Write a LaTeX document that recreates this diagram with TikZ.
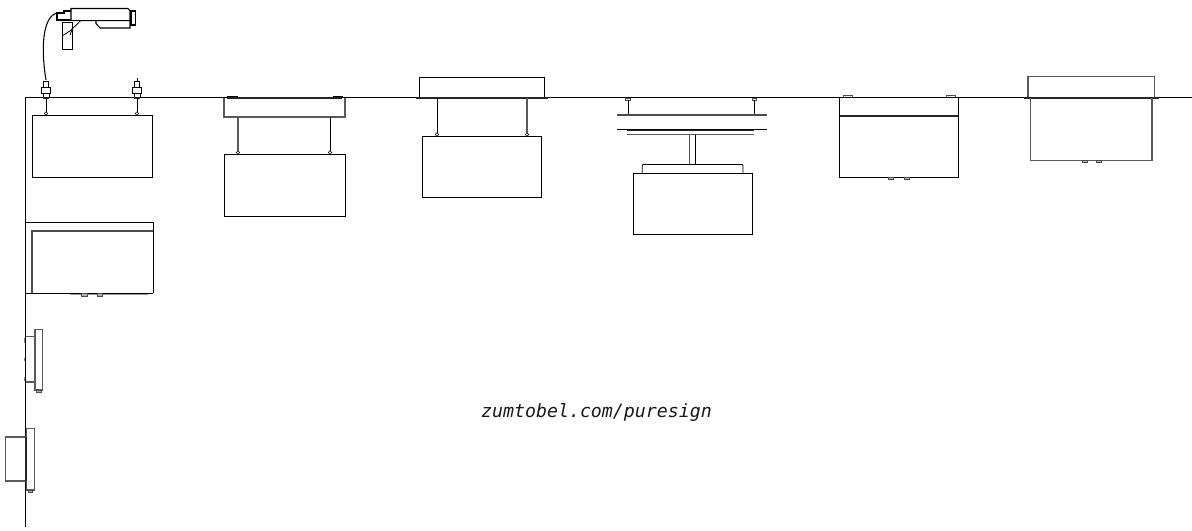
\documentclass[tikz,border=0pt]{standalone}
\usepackage{fontspec}
\setmonofont{DejaVu Sans Mono}
\tikzset{
  ln/.style={draw=black,line width=0.6pt},
  grey/.style={draw=black!65,line width=0.85pt},
  thick2/.style={draw=black!85,line width=1.1pt},
  nub/.style={draw=black!70,fill=black!30,line width=0.5pt},
  ball/.style={draw=black,fill=white,line width=0.45pt},
  label/.style={font=\ttfamily\itshape\fontsize{13.7pt}{16pt}\selectfont,text=black!90,inner sep=0pt}
}
\newcommand{\plug}[2]{%
  \draw[ln,line width=0.7pt] (#1-2.3,#2+81) rectangle (#1+2.3,#2+87.5);
  \draw[ln,line width=0.9pt] (#1-4.5,#2+87.5) rectangle (#1+4.5,#2+93.5);
  \draw[ln,line width=0.7pt] (#1-3,#2+93.5) rectangle (#1+3,#2+97);
  \draw[thick2] (#1-3,#2+98) -- (#1+3,#2+98);
  \draw[ln] (#1,#2+98) -- (#1,#2+113);
  \draw[ball] (#1,#2+113.5) circle (1.8);
}
\begin{document}
\begin{tikzpicture}[x=0.75pt,y=-0.75pt]
\useasboundingbox (0,0) rectangle (1192,531);
% ceiling and wall
\draw[ln] (25.3,97.5) -- (1192,97.5);
\draw[ln] (25.3,97.5) -- (25.3,527);
% camera-type luminaire
\draw[ln,line width=0.8pt] (71,8.5) -- (128,8.5) -- (130,11) -- (130,20.7) -- (71,20.7) -- cycle;
\draw[ln,line width=0.8pt] (130,11) -- (135.7,11) -- (135.7,25) -- (130,25);
\draw[ln,line width=1.1pt] (131,11) -- (131,25);
\draw[ln,line width=0.8pt] (96,20.7) -- (96,23.5) -- (100,28) -- (130,28) -- (130,20.7);
\draw[ln,line width=0.8pt] (71,11) -- (64,11) -- (64,13) -- (57,13) -- (57,20) -- (71,20);
\draw[ln] (62,22.5) -- (72.7,22.5) -- (72.7,49) -- (62,49) -- cycle;
\draw[ln] (62,36) -- (70,31) -- (80.7,20.7);
\draw[ln] (70,35) -- (72.7,28);
\draw[ln,line width=0.8pt] (57,13) .. controls (42,17) and (41,50) .. (46,80);
\plug{46}{0}
\plug{137}{0}
\draw[ln] (137,78) -- (137,81);
% sign 1
\draw[ln] (32,115) rectangle (152,177);
% sign 2
\draw[grey] (224,98) -- (224,117) -- (345,117) -- (345,98);
\draw[thick2] (227,98) -- (342,98);
\draw[ln] (227,98) -- (227,96.3) -- (237,96.3) -- (237,98);
\draw[ln] (333,98) -- (333,96.3) -- (342,96.3) -- (342,98);
\draw[grey] (238,117) -- (238,152);
\draw[ln] (330,117) -- (330,152);
\draw[ball] (238,152.5) circle (1.8);
\draw[ball] (330,152.5) circle (1.8);
\draw[ln,line width=0.7pt] (224,154) rectangle (345,216);
% sign 3
\draw[ln,line width=0.7pt] (419.5,77.3) rectangle (544,97);
\draw[thick2] (416,98) -- (548,98);
\draw[ln] (437,98) -- (437,134);
\draw[grey] (527,98) -- (527,134);
\draw[ball] (437,134.5) circle (1.8);
\draw[ball] (527,134.5) circle (1.8);
\draw[ln,line width=0.7pt] (422.5,136) rectangle (541,197);
% sign 4
\draw[ln,draw=black!70] (625.7,98) rectangle (630,100.5);
\draw[ln,draw=black!70] (752,98) rectangle (756.3,100.5);
\draw[ln] (628,100.5) -- (628,114);
\draw[ln] (754,100.5) -- (754,114);
\draw[thick2,draw=black!70] (617,115) -- (767,115);
\draw[ln] (617,129.7) -- (767,129.7);
\draw[thick2] (627,130.5) -- (754,130.5);
\draw[grey] (627,134.7) -- (754,134.7);
\draw[grey] (689.7,135) -- (689.7,164.5);
\draw[ln] (695.7,135) -- (695.7,164.5);
\draw[ln] (642.3,173) -- (642.3,165.5) -- (643,164.5) -- (742.3,164.5) -- (743,165.5) -- (743,173);
\draw[ln,line width=0.7pt] (633.3,173) rectangle (752,234);
% sign 5
\draw[ln,line width=0.7pt] (839.7,97.5) -- (839.7,177) -- (958.3,177) -- (958.3,97.5);
\draw[thick2] (840,116) -- (958,116);
\draw[ln,draw=black!70] (843.3,97) -- (843.3,95.3) -- (852,95.3) -- (852,97);
\draw[ln,draw=black!70] (946,97) -- (946,95.3) -- (955.3,95.3) -- (955.3,97);
\draw[nub] (888.5,177.3) rectangle (893.7,179.3);
\draw[nub] (904,177.3) rectangle (909.3,179.3);
% sign 6
\draw[grey] (1028,97) -- (1028,76.7) -- (1154.3,76.7) -- (1154.3,97);
\draw[thick2] (1024,98) -- (1159,98);
\draw[grey] (1030.7,98) -- (1030.7,160.3) -- (1152,160.3) -- (1152,98);
\draw[nub] (1082,160.5) rectangle (1087,162.3);
\draw[nub] (1096,160.5) rectangle (1101,162.3);
% wall sign
\draw[ln] (26,222.3) -- (153,222.3) -- (153,293.3);
\draw[thick2,draw=black!70] (31,231) -- (153,231);
\draw[thick2,draw=black!70] (31.8,231) -- (31.8,293);
\draw[ln,line width=0.7pt] (25.3,293.3) -- (153,293.3);
\draw[draw=black!40,line width=0.5pt] (70,294.2) -- (148,294.2);
\draw[nub] (81.5,293.6) rectangle (87,296);
\draw[nub] (97,293.6) rectangle (102,296);
% wall panel 1
\draw[grey] (35,336.7) -- (25.5,336.7);
\draw[grey] (35,382) -- (25.5,382);
\draw[grey] (35,329.3) rectangle (42.7,390);
\draw[nub] (36.5,390.3) rectangle (41,392);
\draw[ln,draw=black!50] (24.5,338.3) -- (24.5,343);
\draw[ln,draw=black!50] (24.5,358) -- (24.5,361);
\draw[ln,draw=black!50] (24.5,377) -- (24.5,381);
% wall panel 2
\draw[grey] (26.7,428.3) rectangle (34.3,490);
\draw[nub] (28,490.3) rectangle (32.8,492);
\draw[grey] (26,437) -- (5.7,437) -- (5.7,481) -- (26,481);
\draw[thick2] (26,437) -- (26,481);
% url
\node[label,anchor=base] (url) at (596.5,417) {zumtobel.com/puresign};
\end{tikzpicture}
\end{document}
